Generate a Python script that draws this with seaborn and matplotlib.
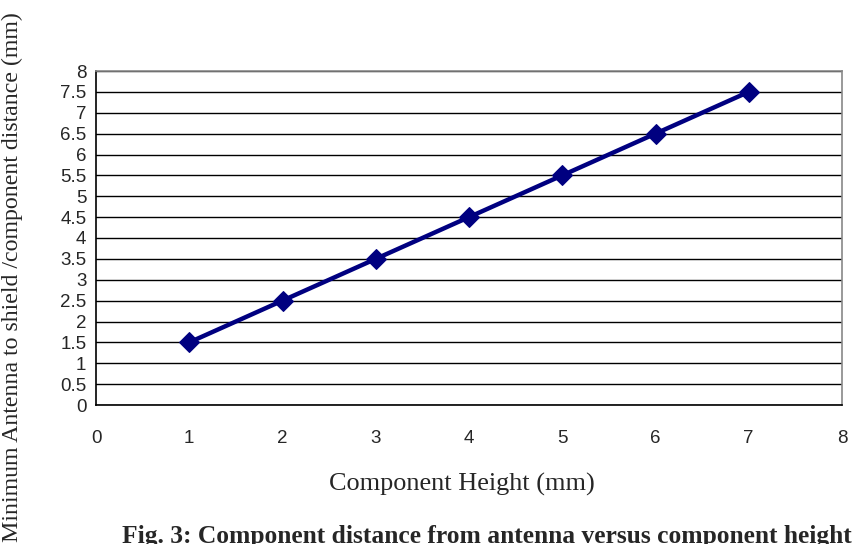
import matplotlib
matplotlib.use("Agg")
import matplotlib.pyplot as plt
import seaborn as sns
import pandas as pd

heights = [1, 2, 3, 4, 5, 6, 7]
distances = [1.5, 2.5, 3.5, 4.5, 5.5, 6.5, 7.5]
x_ticks = [0, 1, 2, 3, 4, 5, 6, 7, 8]
y_ticks = [0, 0.5, 1, 1.5, 2, 2.5, 3, 3.5, 4, 4.5, 5, 5.5, 6, 6.5, 7, 7.5, 8]
x_label = "Component Height (mm)"
y_label = "Minimum Antenna to shield /component distance (mm)"
caption = "Fig. 3: Component distance from antenna versus component height"

sns.set_style("white")
plt.rcParams["font.family"] = ["Liberation Sans", "DejaVu Sans"]

df = pd.DataFrame({"h": heights, "d": distances})

fig = plt.figure(figsize=(8.58, 5.44), dpi=100)
ax = fig.add_axes([96/858, 1-405/544, (842-96)/858, (405-71)/544])

sns.lineplot(data=df, x="h", y="d", ax=ax, color="#000080", linewidth=3.2,
             marker="D", markersize=10, markeredgecolor="#000080", zorder=5)

ax.set_xlim(0, 8)
ax.set_ylim(0, 8)
ax.set_xticks(x_ticks)
ax.set_yticks(y_ticks)
ax.set_xticklabels([f"{v:g}" for v in x_ticks], fontsize=13.5)
ax.set_yticklabels([f"{v:g}" for v in y_ticks], fontsize=13.5)
ax.yaxis.grid(True, color="black", linewidth=1)
ax.xaxis.grid(False)
ax.set_axisbelow(True)
ax.tick_params(axis="y", direction="out", length=5, width=1, color="black", pad=2)
ax.tick_params(axis="x", direction="in", length=5, width=1, color="black", pad=18)
for s in ["left", "bottom"]:
    ax.spines[s].set_color("black")
    ax.spines[s].set_linewidth(1.2)
for s in ["top", "right"]:
    ax.spines[s].set_color("#888888")
    ax.spines[s].set_linewidth(1.2)
ax.set_xlabel("")
ax.set_ylabel("")

fig.text(462/858, 1-484/544, x_label, ha="center", va="center",
         family=["Liberation Serif", "DejaVu Serif"], fontsize=18.9)
fig.text(12/858, 1-277/544, y_label, ha="center", va="center", rotation=90,
         family=["Liberation Serif", "DejaVu Serif"], fontsize=17.2)
fig.text(122/858, 1-525/544, caption, ha="left", va="top",
         family=["Liberation Serif", "DejaVu Serif"], fontsize=18.4, fontweight="bold")

fig.savefig("out.png", dpi=100)
